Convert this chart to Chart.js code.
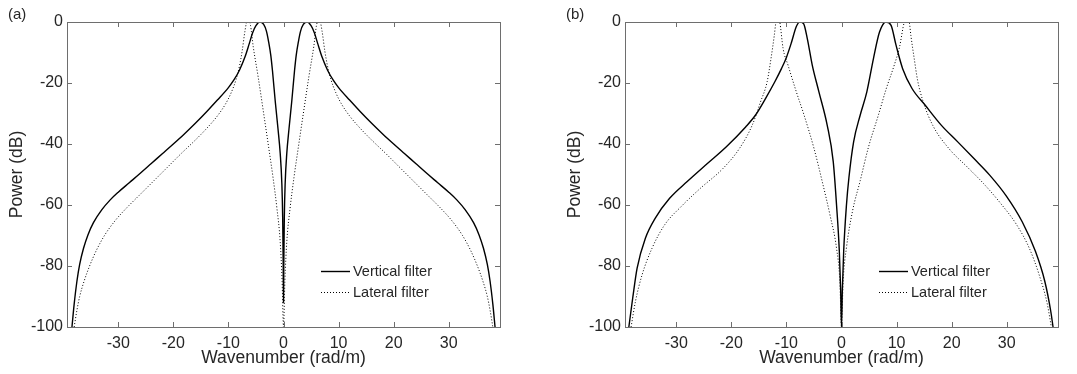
<!DOCTYPE html>
<html>
<head>
<meta charset="utf-8">
<script src="https://cdn.jsdelivr.net/npm/chart.js@4.4.1/dist/chart.umd.min.js"></script>
<style>
  body { margin: 0; background: #fff; width: 1077px; height: 374px; position: relative; overflow: hidden; }
  .panel { position: absolute; top: 0; width: 519px; height: 374px; }
</style>
</head>
<body>
<div class="panel" style="left:0"><canvas id="chartA" width="519" height="374"></canvas></div>
<div class="panel" style="left:558px"><canvas id="chartB" width="519" height="374"></canvas></div>
<script>
// ticks and names
const xTicks = [-30, -20, -10, 0, 10, 20, 30];
const yTicks = [-100, -80, -60, -40, -20, 0];
const seriesNames = ['Vertical filter', 'Lateral filter'];
const panelLabels = ['(a)', '(b)'];

// panel (a)
const aVertK = [-38.4, -38.0, -37.5, -37.0, -36.3, -35.5, -34.5, -33.0, -31.5, -30.0, -28.0, -26.0, -24.0, -22.0, -20.0, -18.0, -16.0, -14.0, -12.0, -10.0, -9.0, -8.0, -7.0, -6.2, -5.6, -5.0, -4.3, -3.6, -3.1, -2.7, -2.3, -2.0, -1.5, -1.0, -0.6, -0.3, -0.15, -0.05, 0,
                0.05, 0.15, 0.3, 0.6, 1.0, 1.5, 2.0, 2.3, 2.7, 3.1, 3.6, 4.3, 5.0, 5.6, 6.2, 7.0, 8.0, 9.0, 10.0, 12.0, 14.0, 16.0, 18.0, 20.0, 22.0, 24.0, 26.0, 28.0, 30.0, 31.5, 33.0, 34.5, 35.5, 36.3, 37.0, 37.5, 38.0, 38.4];
const aVertDb = [-100, -92.5, -85, -79.5, -74.2, -69.8, -65.8, -61.6, -58.4, -55.8, -52.7, -49.6, -46.4, -43.2, -40, -36.7, -33.2, -29.5, -25.6, -21.5, -19, -15.8, -11.5, -7, -3.5, -1.2, 0, -0.8, -3, -6.5, -11, -16, -26, -35, -43, -53, -64, -80, -92,
                 -80, -64, -53, -43, -35, -26, -16, -11, -6.5, -3, -0.8, 0, -1.2, -3.5, -7, -11.5, -15.8, -19, -21.5, -25.6, -29.5, -33.2, -36.7, -40, -43.2, -46.4, -49.6, -52.7, -55.8, -58.4, -61.6, -65.8, -69.8, -74.2, -79.5, -85, -92.5, -100];
const aLatK = [-38.0, -37.5, -37.0, -36.2, -35.2, -34.0, -32.5, -30.5, -28.5, -26.0, -23.5, -21.0, -18.5, -16.0, -14.0, -12.0, -10.5, -9.5, -8.6, -8.0, -7.5, -7.0, -6.5, -6.0, -5.5, -4.6, -3.6, -2.7, -1.9, -1.2, -0.6, -0.25, 0,
               0.25, 0.6, 1.2, 1.9, 2.7, 3.6, 4.6, 5.5, 6.0, 6.5, 7.0, 7.5, 8.0, 8.6, 9.5, 10.5, 12.0, 14.0, 16.0, 18.5, 21.0, 23.5, 26.0, 28.5, 30.5, 32.5, 34.0, 35.2, 36.2, 37.0, 37.5, 38.0];
const aLatDb = [-100, -94.5, -90, -85, -80, -75, -70, -65, -61, -56.5, -52, -47.5, -43, -38.7, -35, -30.8, -26.8, -23.2, -18.8, -14.5, -9.5, -3, 1, -1, -8, -18, -30, -41, -51, -61, -72, -85, -100,
                -85, -72, -61, -51, -41, -30, -18, -8, -1, 1, -3, -9.5, -14.5, -18.8, -23.2, -26.8, -30.8, -35, -38.7, -43, -47.5, -52, -56.5, -61, -65, -70, -75, -80, -85, -90, -94.5, -100];

// panel (b)
const bVertK = [-38.6, -37.9, -37.1, -35.6, -33.8, -31.2, -28, -24.4, -20.9, -17.4, -15.6, -13.8, -12.1, -10.9, -10, -9.1, -8.2, -7.6, -6.9, -6.2, -5.3, -4.1, -2.6, -1.5, -0.9, -0.4, -0.15, 0,
                0.15, 0.4, 0.9, 1.35, 2.2, 3.4, 4.6, 5.8, 6.9, 8.1, 9.0, 9.9, 11.1, 12.8, 15.2, 18.1, 21.1, 24, 26.9, 29.9, 32.8, 35.2, 36.9, 38.0, 38.4];
const bVertDb = [-100, -90.5, -80.7, -70.9, -64.3, -57.8, -52.3, -46.5, -40.9, -34.4, -30.5, -25.1, -19.6, -15.3, -11.6, -6.8, -1.5, 0, -0.5, -5.5, -14.2, -22.9, -33.8, -45.8, -60, -75, -88, -100,
                 -88, -75, -60, -51, -39.3, -30.5, -22.9, -12, -3.3, 0, -1.1, -7.6, -15.3, -21.8, -27.3, -33.8, -39.3, -44.7, -50.2, -57, -65.5, -75.2, -85, -95, -100];
const bLatK = [-38.2, -37.4, -36.2, -34.4, -32.1, -29.1, -25.6, -21.5, -18.5, -16.2, -14.7, -13.5, -12.8, -12.2, -11.9, -11.55, -11.2, -10.6, -9.7, -8.2, -6.8, -5.0, -3.5, -2.1, -0.9, -0.3, 0,
               0.3, 0.9, 2.0, 3.4, 4.9, 6.7, 8.1, 9.6, 10.5, 11.4, 11.9, 12.3, 12.6, 13.2, 13.8, 14.8, 16.6, 19.5, 22.8, 25.8, 28.9, 31.8, 34.1, 35.9, 37.3, 38.1];
const bLatDb = [-100, -91.6, -82.9, -74.2, -66.5, -60.5, -54.5, -48, -41.4, -33.8, -26.2, -19.6, -12, -4.4, 0, 1.5, 0, -8.7, -14.2, -22.9, -30.5, -41.4, -52.3, -63.2, -74.2, -85, -100,
                -85, -74, -62, -52, -41, -30.5, -22, -14, -8.5, 0, 1.5, 0, -4.5, -12, -19, -26, -34, -41.5, -47.5, -53, -59.5, -66.5, -74.2, -83, -92, -100];

const FONT = '"Liberation Sans", Arial, Helvetica, sans-serif';
const TXT = '#262626';
const AX = '#6e6e6e';

const toPts = (ks, dbs) => ks.map((k, i) => ({ x: k, y: dbs[i] }));

// box, inward ticks, legend and panel letter, drawn like MATLAB
const matlabAxes = {
  id: 'matlabAxes',
  afterDatasetsDraw(chart, args, opts) {
    const { ctx, chartArea: a, scales: { x, y } } = chart;
    ctx.save();
    ctx.strokeStyle = AX;
    ctx.lineWidth = 1;
    ctx.beginPath();
    xTicks.forEach(v => {
      const px = Math.round(x.getPixelForValue(v)) + 0.5;
      ctx.moveTo(px, a.bottom); ctx.lineTo(px, a.bottom - 5);
      ctx.moveTo(px, a.top); ctx.lineTo(px, a.top + 5);
    });
    yTicks.forEach(v => {
      const py = Math.round(y.getPixelForValue(v)) + 0.5;
      ctx.moveTo(a.left, py); ctx.lineTo(a.left + 5, py);
      ctx.moveTo(a.right, py); ctx.lineTo(a.right - 5, py);
    });
    ctx.stroke();
    ctx.strokeRect(a.left + 0.5, a.top + 0.5, a.right - a.left, a.bottom - a.top);

    // legend
    ctx.font = '14.5px ' + FONT;
    ctx.textBaseline = 'middle';
    chart.data.datasets.forEach((ds, i) => {
      const ly = a.top + 249.5 + i * 21;
      ctx.strokeStyle = '#000';
      ctx.lineWidth = ds.borderWidth;
      ctx.setLineDash(ds.borderDash || []);
      ctx.beginPath();
      ctx.moveTo(a.right - 179, ly); ctx.lineTo(a.right - 150, ly);
      ctx.stroke();
      ctx.fillStyle = TXT;
      ctx.fillText(ds.label, a.right - 147, ly);
    });
    ctx.setLineDash([]);

    ctx.font = '15px ' + FONT;
    ctx.fillStyle = TXT;
    ctx.fillText(opts.label, 8, 15);
    ctx.restore();
  }
};

function makePanel(id, label, vert, lat) {
  return new Chart(document.getElementById(id), {
    type: 'scatter',
    data: {
      datasets: [
        { label: seriesNames[0], data: vert, showLine: true, borderColor: '#000', borderWidth: 1.4,
          pointRadius: 0, cubicInterpolationMode: 'monotone' },
        { label: seriesNames[1], data: lat, showLine: true, borderColor: '#000', borderWidth: 1,
          borderDash: [1, 2], pointRadius: 0, cubicInterpolationMode: 'monotone' }
      ]
    },
    options: {
      responsive: false,
      animation: false,
      events: [],
      layout: { padding: { left: 0, right: 19, top: 22, bottom: 0 } },
      plugins: { legend: { display: false }, tooltip: { enabled: false }, matlabAxes: { label } },
      scales: {
        x: {
          type: 'linear', min: -39.3, max: 39.3,
          afterBuildTicks: s => { s.ticks = xTicks.map(v => ({ value: v })); },
          afterFit: s => { s.height = 47; },
          grid: { display: false, drawTicks: false },
          border: { display: false },
          ticks: { color: TXT, font: { family: FONT, size: 16 }, padding: 7, maxRotation: 0 },
          title: { display: true, text: 'Wavenumber (rad/m)', color: TXT, font: { family: FONT, size: 17.5 }, padding: { top: 0, bottom: 5 } }
        },
        y: {
          type: 'linear', min: -100, max: 0,
          afterBuildTicks: s => { s.ticks = yTicks.map(v => ({ value: v })); },
          afterFit: s => { s.width = 67; },
          grid: { display: false, drawTicks: false },
          border: { display: false },
          ticks: { color: TXT, font: { family: FONT, size: 16 }, padding: 4 },
          title: { display: true, text: 'Power (dB)', color: TXT, font: { family: FONT, size: 17.5 }, padding: { top: 7, bottom: 0 } }
        }
      }
    },
    plugins: [matlabAxes]
  });
}

makePanel('chartA', panelLabels[0], toPts(aVertK, aVertDb), toPts(aLatK, aLatDb));
makePanel('chartB', panelLabels[1], toPts(bVertK, bVertDb), toPts(bLatK, bLatDb));
</script>
</body>
</html>
